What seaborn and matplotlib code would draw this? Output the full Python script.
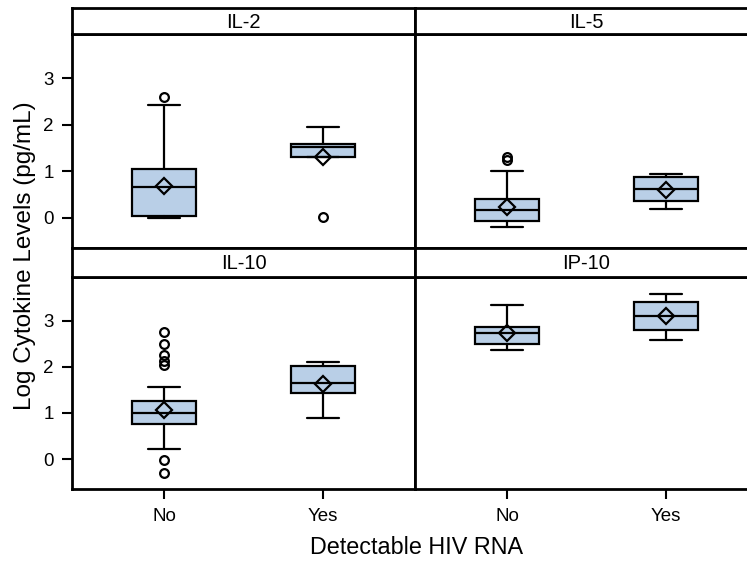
import numpy as np
import pandas as pd
import matplotlib
matplotlib.use("Agg")
import matplotlib.pyplot as plt
import seaborn as sns

# ---- data ----
cytokine_order = ["IL-2", "IL-5", "IL-10", "IP-10"]
groups = ["No", "Yes"]
cytokine = ["IL-2", "IL-2", "IL-5", "IL-5", "IL-10", "IL-10", "IP-10", "IP-10"]
hiv_rna = ["No", "Yes", "No", "Yes", "No", "Yes", "No", "Yes"]
whisker_low = [0.00, 1.31, -0.19, 0.19, 0.22, 0.88, 2.37, 2.59]
q1_vals = [0.04, 1.31, -0.06, 0.35, 0.76, 1.44, 2.49, 2.79]
median_vals = [0.66, 1.52, 0.17, 0.61, 1.00, 1.65, 2.73, 3.10]
q3_vals = [1.05, 1.58, 0.41, 0.88, 1.25, 2.01, 2.86, 3.40]
whisker_high = [2.43, 1.95, 1.00, 0.94, 1.56, 2.11, 3.35, 3.58]
mean_vals = [0.69, 1.31, 0.23, 0.59, 1.06, 1.62, 2.73, 3.10]
outlier_vals = [[2.60], [0.02], [1.24, 1.31], [],
                [2.76, 2.50, 2.26, 2.13, 2.04, -0.03, -0.31], [], [], []]
y_ticks = [0, 1, 2, 3]

df = pd.DataFrame({
    "cytokine": cytokine, "hiv": hiv_rna, "whislo": whisker_low, "q1": q1_vals,
    "med": median_vals, "q3": q3_vals, "whishi": whisker_high, "mean": mean_vals,
    "fliers": outlier_vals,
})

sns.set_theme(style="white")
plt.rcParams["font.family"] = ["Liberation Sans", "DejaVu Sans"]
plt.rcParams["text.color"] = "black"
plt.rcParams["axes.labelcolor"] = "black"
plt.rcParams["xtick.color"] = "black"
plt.rcParams["ytick.color"] = "black"

BOX_FILL = "#B9CFE7"
LW = 1.6


def draw_boxes(data, **kws):
    ax = plt.gca()
    stats = []
    pos = []
    for _, r in data.iterrows():
        stats.append(dict(whislo=r.whislo, q1=r.q1, med=r.med, q3=r.q3,
                          whishi=r.whishi, mean=r["mean"],
                          fliers=np.array(r.fliers, dtype=float), label=r.hiv))
        pos.append(groups.index(r.hiv))
    ax.bxp(stats, positions=pos, widths=0.4, capwidths=0.2, patch_artist=True,
           showmeans=True, manage_ticks=False,
           boxprops=dict(facecolor=BOX_FILL, edgecolor="black", linewidth=LW),
           medianprops=dict(color="black", linewidth=LW),
           whiskerprops=dict(color="black", linewidth=LW),
           capprops=dict(color="black", linewidth=LW),
           meanprops=dict(marker="D", markerfacecolor="none", markeredgecolor="black",
                          markersize=8.5, markeredgewidth=1.6),
           flierprops=dict(marker="o", markerfacecolor="none", markeredgecolor="black",
                           markersize=6.3, markeredgewidth=1.6))


g = sns.FacetGrid(df, col="cytokine", col_order=cytokine_order, col_wrap=2,
                  sharex=True, sharey=True, despine=False, height=2.5, aspect=1.2)
g.map_dataframe(draw_boxes)

fig = g.figure
fig.set_size_inches(7.47, 5.63)
W_PX, H_PX = 747.0, 563.0

left_px = 72
col_w_px = 343
rows = [(8, 34, 248), (248, 277, 489)]  # header top, plot top, plot bottom

SPINE_LW = 2.0
TICK_FS = 13.5

for i, name in enumerate(cytokine_order):
    ax = g.axes_dict[name]
    r, c = divmod(i, 2)
    htop, ptop, pbot = rows[r]
    x0 = (left_px + c * col_w_px) / W_PX
    w = col_w_px / W_PX
    ax.set_position([x0, 1 - pbot / H_PX, w, (pbot - ptop) / H_PX])
    ax.set_xlim(-0.58, 1.58)
    ax.set_ylim(-0.65, 3.95)
    ax.set_title("")
    ax.set_xlabel("")
    ax.set_ylabel("")
    for s in ax.spines.values():
        s.set_linewidth(SPINE_LW)
        s.set_color("black")
    ax.set_xticks([0, 1])
    ax.set_yticks(y_ticks)
    if r == 1:
        ax.set_xticklabels(groups)
    if c == 0:
        ax.set_yticklabels([str(t) for t in y_ticks])
    ax.tick_params(axis="both", which="both", length=7, width=1.5,
                   direction="out", labelsize=TICK_FS, colors="black")
    ax.tick_params(axis="x", bottom=(r == 1), labelbottom=(r == 1), pad=7)
    ax.tick_params(axis="y", left=(c == 0), labelleft=(c == 0), pad=6)
    ax.grid(False)

    # header strip
    hax = fig.add_axes([x0, 1 - ptop / H_PX, w, (ptop - htop) / H_PX])
    hax.set_xticks([])
    hax.set_yticks([])
    hax.set_facecolor("white")
    for s in hax.spines.values():
        s.set_linewidth(SPINE_LW)
        s.set_color("black")
    hax.text(0.5, 0.45, name, ha="center", va="center", fontsize=14.5,
             transform=hax.transAxes)

fig.text(417 / W_PX, 1 - 548 / H_PX, "Detectable HIV RNA", ha="center",
         va="center", fontsize=16.8)
fig.text(25 / W_PX, 1 - 256 / H_PX, "Log Cytokine Levels (pg/mL)", ha="center",
         va="center", rotation=90, fontsize=17.5)

fig.savefig("out.png", dpi=100)
